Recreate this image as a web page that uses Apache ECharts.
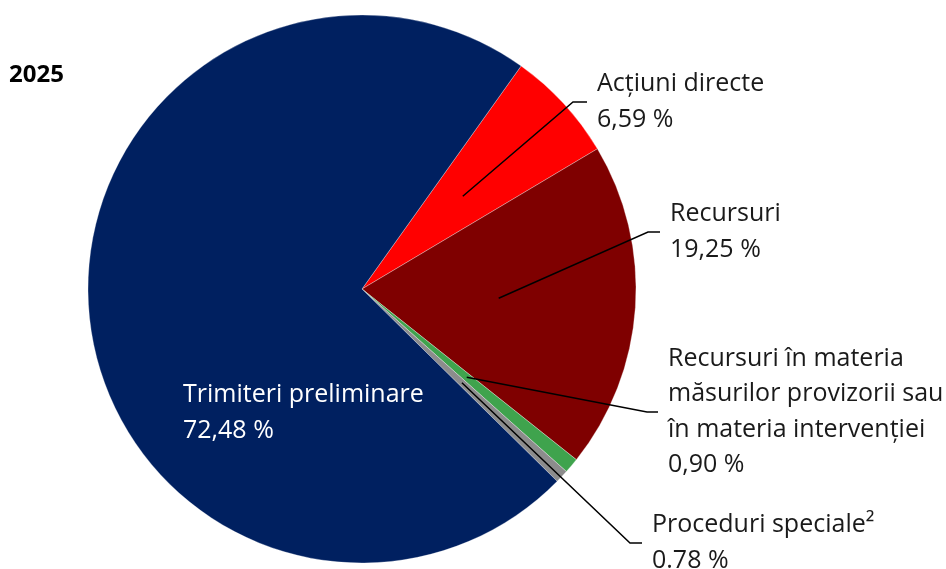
<!DOCTYPE html>
<html>
<head>
<meta charset="utf-8">
<script src="https://cdn.jsdelivr.net/npm/echarts@6/dist/echarts.min.js"></script>
<style>html,body{margin:0;padding:0;background:#fff}#c{width:946px;height:569px}</style>
</head>
<body>
<div id="c"></div>
<script>
const titleText = '2025';
const categories = ['Acțiuni directe', 'Recursuri', 'Recursuri în materia\nmăsurilor provizorii sau\nîn materia intervenției', 'Proceduri speciale²', 'Trimiteri preliminare'];
const values = [6.59, 19.25, 0.90, 0.78, 72.48];
const valueLabels = ['6,59 %', '19,25 %', '0,90 %', '0.78 %', '72,48 %'];
const colors = ['#ff0000', '#7f0000', '#3fa34d', '#8c8c8c', '#002060'];

const CX = 362, CY = 289, R = 274, START = 54.5;
// label anchor positions (left-middle of label block)
const labelAnchors = [[597, 102], [670, 232], [668, 412], [652, 543], [183, 413]];
const elbowLen = [14, 12, 11, 12, 0];
const leaderItems = [0, 1, 2, 3];

const total = values.reduce((s, v) => s + v, 0);
function midAngle(i) {
  let cum = 0;
  for (let k = 0; k < i; k++) cum += values[k];
  return (START - 360 * (cum + values[i] / 2) / total) * Math.PI / 180;
}

const chart = echarts.init(document.getElementById('c'));
chart.setOption({
  animation: false,
  title: { text: titleText, left: 4, top: 58, textStyle: { fontFamily: 'Open Sans', fontWeight: 'bold', fontSize: 24, color: '#000' } },
  series: [{
    type: 'pie',
    center: [CX, CY],
    radius: R,
    startAngle: START,
    clockwise: true,
    avoidLabelOverlap: false,
    itemStyle: { borderColor: 'rgba(255,255,255,0.6)', borderWidth: 0.5 },
    label: {
      show: true, position: 'outside',
      fontFamily: 'Open Sans', fontSize: 25, lineHeight: 35.5, color: '#1a1a1a',
      formatter: p => categories[p.dataIndex] + '\n' + valueLabels[p.dataIndex]
    },
    labelLine: { show: false },
    labelLayout: function (p) {
      const a = labelAnchors[p.dataIndex];
      return { x: a[0], y: a[1], align: 'left', verticalAlign: 'middle' };
    },
    data: categories.map((c, i) => ({
      name: c, value: values[i],
      itemStyle: { color: colors[i] },
      label: i === 4 ? { color: '#fff' } : undefined
    }))
  }, {
    type: 'custom',
    coordinateSystem: 'none',
    silent: true,
    z: 10,
    data: leaderItems,
    renderItem: function (params, api) {
      const i = leaderItems[params.dataIndex];
      const ang = midAngle(i);
      const a = labelAnchors[i];
      const inner = [CX + Math.cos(ang) * R * 0.5, CY - Math.sin(ang) * R * 0.5];
      const end = [a[0] - 10, a[1]];
      const elbow = [end[0] - elbowLen[i], a[1]];
      return {
        type: 'polyline',
        shape: { points: [inner, elbow, end] },
        style: { stroke: '#000', lineWidth: 1.5, fill: null }
      };
    }
  }]
});
</script>
</body>
</html>
